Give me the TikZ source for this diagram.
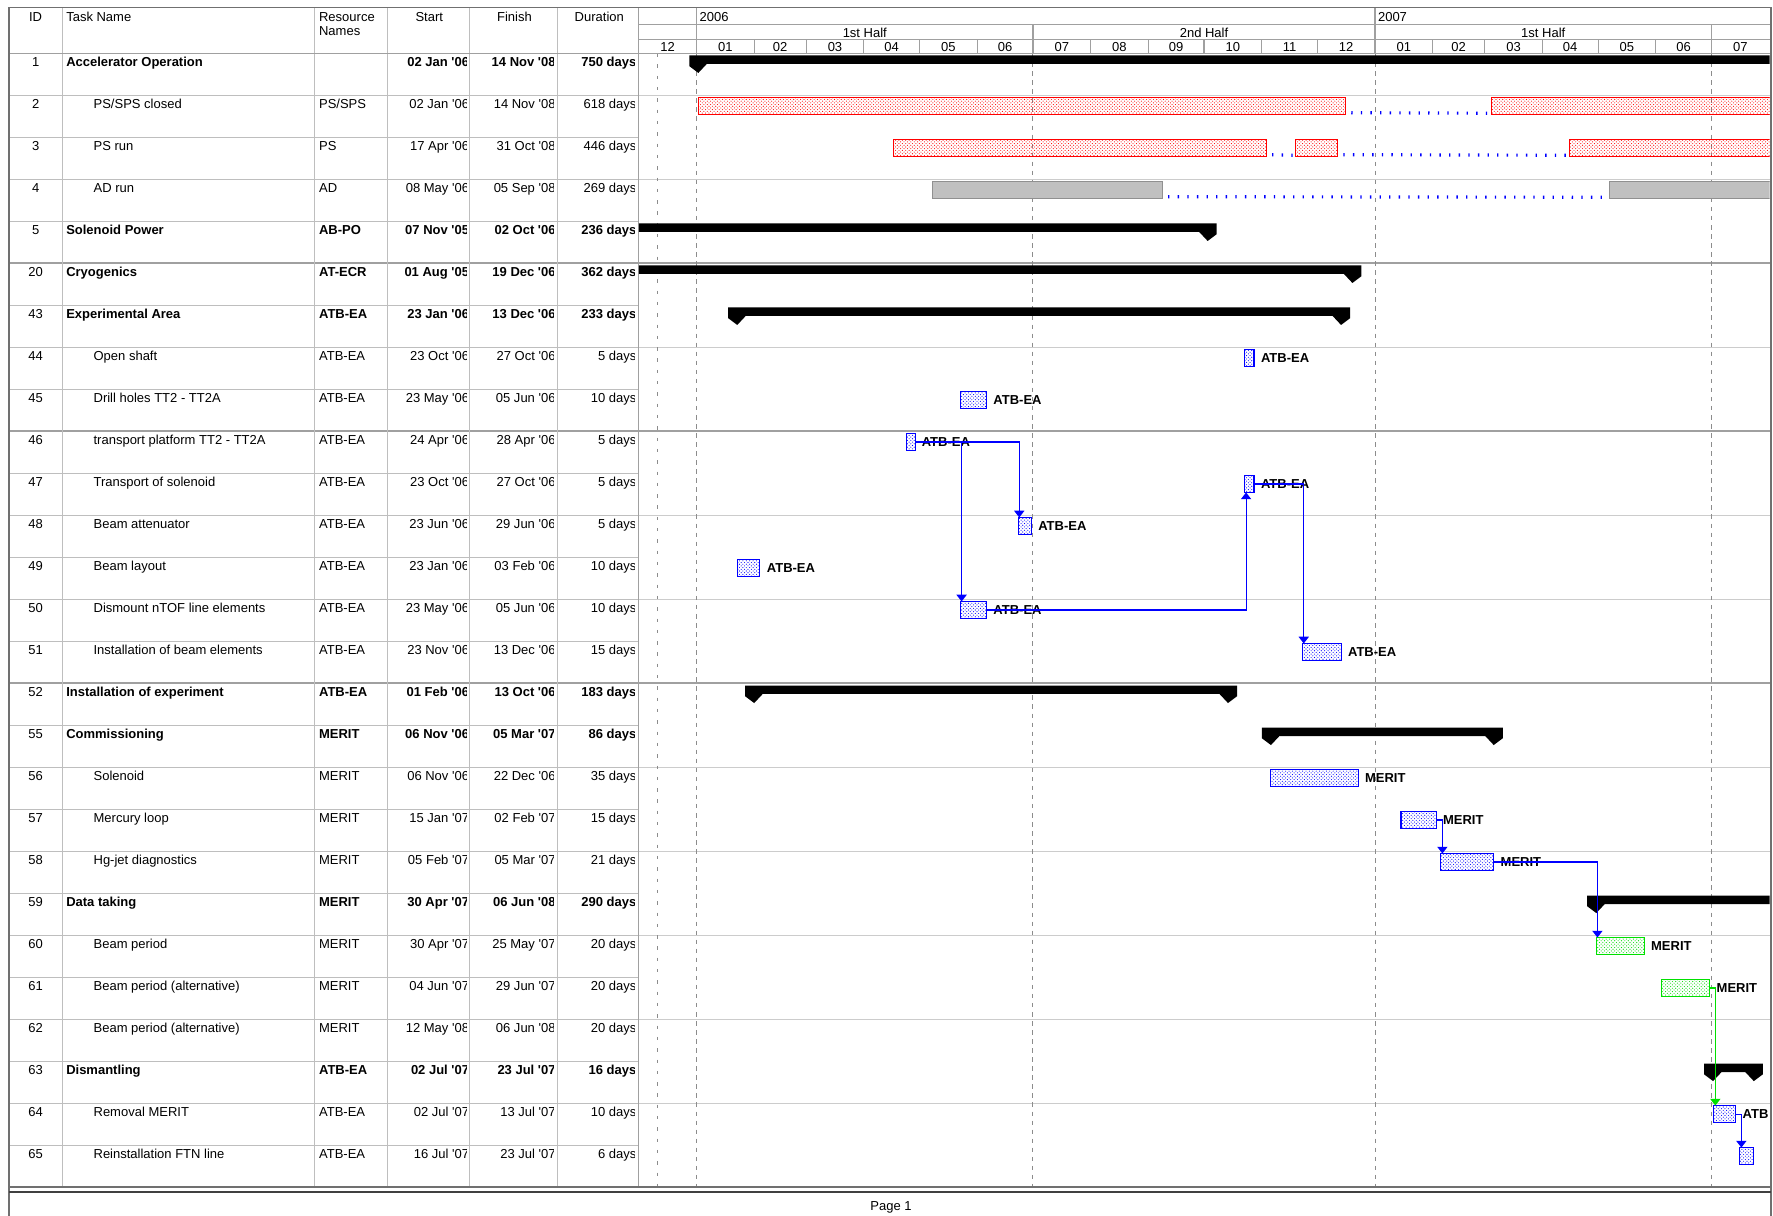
\documentclass[tikz,border=0pt]{standalone}
\usepackage{fontspec}
\newfontfamily\arial{Liberation Sans}
\usetikzlibrary{arrows.meta,patterns}
\definecolor{gridc}{HTML}{A0A0A0}
\definecolor{tgrid}{HTML}{BEBEBE}
\definecolor{cgrid}{HTML}{CCCCCC}
\definecolor{framec}{HTML}{707070}
\definecolor{barred}{HTML}{FF0000}
\definecolor{barblue}{HTML}{0000FF}
\definecolor{bargreen}{HTML}{00E000}
\definecolor{bargray}{HTML}{C0C0C0}
\definecolor{bargrayd}{HTML}{909090}
\definecolor{dashc}{HTML}{8C8C8C}
\tikzset{
 cell/.style={font=\arial\fontsize{11.5}{13}\selectfont, inner sep=0pt, anchor=base west},
 lbl/.style={font=\arial\bfseries\fontsize{11.5}{13}\selectfont, inner sep=0pt, anchor=west},
 tbar/.style={minimum height=15pt, minimum width=#1, inner sep=0pt, outer sep=0pt, anchor=north west, line width=0.9pt},
 redbar/.style={tbar=#1, draw=barred, pattern=crosshatch dots, pattern color=barred},
 bluebar/.style={tbar=#1, draw=barblue, pattern=crosshatch dots, pattern color=barblue},
 greenbar/.style={tbar=#1, draw=bargreen, pattern=crosshatch dots, pattern color=bargreen},
 graybar/.style={tbar=#1, draw=bargrayd, fill=bargray},
 link/.style={draw=barblue, line width=1pt, -{Triangle[width=9pt,length=6pt]}},
 glink/.style={link, draw=bargreen},
 splitline/.style={draw=barblue, line width=2.8pt, dash pattern=on 1.2pt off 7.3pt},
 tline/.style={draw=tgrid, line width=0.9pt},
 cline/.style={draw=cgrid, line width=0.9pt},
 hline/.style={draw=gridc, line width=1pt},
 pline/.style={draw=gridc, line width=1.7pt},
 frame/.style={draw=framec, line width=1.4pt},
 vdash/.style={draw=dashc, line width=0.8pt, dash pattern=on 4pt off 4pt},
 vdashb/.style={draw=dashc, line width=0.8pt, dash pattern=on 3pt off 7pt},
}
\newcommand\sumbar[3]{%
 \fill[black] (#2-8,#1+2) -- (#3+8,#1+2) -- (#3+8,#1+11.5) -- (#3,#1+17.5) -- (#3-7.5,#1+9.5)
   -- (#2+7.5,#1+9.5) -- (#2,#1+17.5) -- (#2-8,#1+11.5) -- cycle;}
\begin{document}
\begin{tikzpicture}[x=1pt,y=-1pt]
\useasboundingbox (0,0) rectangle (1568,1075);
\fill[white] (0,0) rectangle (1568,1075);

% grid lines
\foreach \k in {1,...,26} \draw[tline] (8,47+37.15*\k) -- (565,47+37.15*\k);
\foreach \k in {1,3,...,25} \draw[cline] (565,47+37.15*\k) -- (1565,47+37.15*\k);
\foreach \k in {5,9,15} \draw[pline] (8,47+37.15*\k) -- (1565,47+37.15*\k);
\draw[vdashb] (581,47) -- (581,1050);
\foreach \xx in {616,913.5,1216,1513.6} \draw[vdash] (\xx,47) -- (\xx,1050);
\foreach \xx in {55,278,343,415,493} \draw[tline] (\xx,6.5) -- (\xx,1050);
\draw[hline] (565,6.5) -- (565,1050);
\draw[hline] (8,47) -- (1565,47);
\draw[hline] (565,21.5) -- (1565,21.5);
\draw[hline] (565,35) -- (1565,35);
\foreach \xx in {616,1216} \draw[hline] (\xx,6.5) -- (\xx,21.5);
\foreach \xx in {616,913.5,1216,1513.6} \draw[hline] (\xx,21.5) -- (\xx,35);

% table header
\node[cell,anchor=base] (hid) at (31.5,18.8) {ID};
\node[cell] (htask) at (58.4,18.8) {Task Name};
\node[cell] (hres1) at (282,18.8) {Resource};
\node[cell] (hres2) at (282,31.5) {Names};
\node[cell,anchor=base] (hstart) at (379.6,18.8) {Start};
\node[cell,anchor=base] (hfin) at (455,18.8) {Finish};
\node[cell,anchor=base] (hdur) at (530,18.8) {Duration};

% chart header
\node[cell] (y2006) at (618.5,19.4) {2006};
\node[cell] (y2007) at (1218.5,19.4) {2007};
\node[cell,anchor=base] (half1) at (764.8,33.6) {1st Half};
\node[cell,anchor=base] (half2) at (1064.8,33.6) {2nd Half};
\node[cell,anchor=base] (half3) at (1364.8,33.6) {1st Half};
\foreach \ma/\mb/\mlab in {0/31/12,31/62/01,62/90/02,90/121/03,121/151/04,151/182/05,182/212/06,212/243/07,243/274/08,274/304/09,304/335/10,335/365/11,365/396/12,396/427/01,427/455/02,455/486/03,486/516/04,516/547/05,547/577/06,577/608/07} {
 \draw[hline] (565+1.644*\ma,35) -- (565+1.644*\ma,47);
 \node[cell,anchor=base] (mo\ma) at (565+0.822*\ma+0.822*\mb,45.4) {\mlab};
}

% table rows
\foreach \rI/\rID/\rF/\rX/\rN/\rR/\rS/\rE/\rD in {
0/1/\bfseries/58.4/Accelerator Operation//02 Jan '06/14 Nov '08/750 days,
1/2/\mdseries/82.6/{PS/SPS closed}/{PS/SPS}/02 Jan '06/14 Nov '08/618 days,
2/3/\mdseries/82.6/PS run/PS/17 Apr '06/31 Oct '08/446 days,
3/4/\mdseries/82.6/AD run/AD/08 May '06/05 Sep '08/269 days,
4/5/\bfseries/58.4/Solenoid Power/AB-PO/07 Nov '05/02 Oct '06/236 days,
5/20/\bfseries/58.4/Cryogenics/AT-ECR/01 Aug '05/19 Dec '06/362 days,
6/43/\bfseries/58.4/Experimental Area/ATB-EA/23 Jan '06/13 Dec '06/233 days,
7/44/\mdseries/82.6/Open shaft/ATB-EA/23 Oct '06/27 Oct '06/5 days,
8/45/\mdseries/82.6/Drill holes TT2 - TT2A/ATB-EA/23 May '06/05 Jun '06/10 days,
9/46/\mdseries/82.6/transport platform TT2 - TT2A/ATB-EA/24 Apr '06/28 Apr '06/5 days,
10/47/\mdseries/82.6/Transport of solenoid/ATB-EA/23 Oct '06/27 Oct '06/5 days,
11/48/\mdseries/82.6/Beam attenuator/ATB-EA/23 Jun '06/29 Jun '06/5 days,
12/49/\mdseries/82.6/Beam layout/ATB-EA/23 Jan '06/03 Feb '06/10 days,
13/50/\mdseries/82.6/Dismount nTOF line elements/ATB-EA/23 May '06/05 Jun '06/10 days,
14/51/\mdseries/82.6/Installation of beam elements/ATB-EA/23 Nov '06/13 Dec '06/15 days,
15/52/\bfseries/58.4/Installation of experiment/ATB-EA/01 Feb '06/13 Oct '06/183 days,
16/55/\bfseries/58.4/Commissioning/MERIT/06 Nov '06/05 Mar '07/86 days,
17/56/\mdseries/82.6/Solenoid/MERIT/06 Nov '06/22 Dec '06/35 days,
18/57/\mdseries/82.6/Mercury loop/MERIT/15 Jan '07/02 Feb '07/15 days,
19/58/\mdseries/82.6/Hg-jet diagnostics/MERIT/05 Feb '07/05 Mar '07/21 days,
20/59/\bfseries/58.4/Data taking/MERIT/30 Apr '07/06 Jun '08/290 days,
21/60/\mdseries/82.6/Beam period/MERIT/30 Apr '07/25 May '07/20 days,
22/61/\mdseries/82.6/Beam period (alternative)/MERIT/04 Jun '07/29 Jun '07/20 days,
23/62/\mdseries/82.6/Beam period (alternative)/MERIT/12 May '08/06 Jun '08/20 days,
24/63/\bfseries/58.4/Dismantling/ATB-EA/02 Jul '07/23 Jul '07/16 days,
25/64/\mdseries/82.6/Removal MERIT/ATB-EA/02 Jul '07/13 Jul '07/10 days,
26/65/\mdseries/82.6/Reinstallation FTN line/ATB-EA/16 Jul '07/23 Jul '07/6 days} {
 \pgfmathsetmacro\yy{47+37.15*\rI+11.4}
 \node[cell,anchor=base] (id\rID) at (31.5,\yy) {\rID};
 \node[cell] (nm\rID) at (\rX,\yy) {\rF\rN};
 \node[cell] (rs\rID) at (282,\yy) {\rF\rR};
 \begin{scope}
  \clip (343,\yy-14) rectangle (412.5,\yy+6);
  \node[cell,anchor=base east] (sd\rID) at (415,\yy) {\rF\rS};
 \end{scope}
 \begin{scope}
  \clip (415,\yy-14) rectangle (489.5,\yy+6);
  \node[cell,anchor=base east] (fd\rID) at (491.5,\yy) {\rF\rE};
 \end{scope}
 \begin{scope}
  \clip (493,\yy-14) rectangle (561.5,\yy+6);
  \node[cell,anchor=base east] (du\rID) at (563,\yy) {\rF\rD};
 \end{scope}
}

% chart content
\begin{scope}
\clip (565,47) rectangle (1565,1050);
% summary bars
\sumbar{47}{617.6}{1620}
\sumbar{195.6}{525.5}{1068}
\sumbar{232.75}{400}{1196}
\sumbar{269.9}{652}{1186}
\sumbar{604.25}{667}{1086}
\sumbar{641.4}{1124}{1321}
\sumbar{790}{1411.7}{1700}
\sumbar{938.6}{1515}{1551}
% split task rows
\node[redbar=572.4pt] (b2a) at (617.6,86.15) {};
\node[redbar=247pt] (b2b) at (1319,86.15) {};
\node[redbar=330pt] (b3a) at (790,123.3) {};
\node[redbar=37pt] (b3b) at (1146,123.3) {};
\node[redbar=178pt] (b3c) at (1388,123.3) {};
\node[graybar=203pt] (b4a) at (825,160.45) {};
\node[graybar=143pt] (b4b) at (1423,160.45) {};
\draw[splitline] (b2a.south east) ++(5,-1.5) coordinate (s2a) -- (1316,100.15) coordinate (s2b);
\draw[splitline] (b3a.south east) ++(5,-1.5) coordinate (s3a) -- (1144,137.3) coordinate (s3b);
\draw[splitline] (b3b.south east) ++(5,-1.5) coordinate (s3c) -- (1386,137.3) coordinate (s3d);
\draw[splitline] (b4a.south east) ++(5,-1.5) coordinate (s4a) -- (1421,174.45) coordinate (s4b);
% tasks
\node[bluebar=8pt] (b44) at (1101,309.05) {};
\node[bluebar=23pt] (b45) at (849.4,346.2) {};
\node[bluebar=8.3pt] (b46) at (801.7,383.35) {};
\node[bluebar=8pt] (b47) at (1101,420.5) {};
\node[bluebar=11.6pt] (b48) at (900.4,457.65) {};
\node[bluebar=20pt] (b49) at (652,494.8) {};
\node[bluebar=23pt] (b50) at (849.4,531.95) {};
\node[bluebar=34pt] (b51) at (1152,569.1) {};
\node[bluebar=77pt] (b56) at (1124,680.55) {};
\node[bluebar=31pt] (b57) at (1239,717.7) {};
\node[bluebar=47.4pt] (b58) at (1273.6,754.85) {};
\node[greenbar=42.3pt] (b60) at (1411.7,829.15) {};
\node[greenbar=43pt] (b61) at (1469,866.3) {};
\node[bluebar=20pt] (b64) at (1515,977.75) {};
\node[bluebar=13pt] (b65) at (1538,1014.9) {};
% labels
\node[lbl] (l44) at ([xshift=6pt]b44.east) {ATB-EA};
\node[lbl] (l45) at ([xshift=6pt]b45.east) {ATB-EA};
\node[lbl] (l46) at ([xshift=5pt]b46.east) {ATB-EA};
\node[lbl] (l47) at ([xshift=6pt]b47.east) {ATB-EA};
\node[lbl] (l48) at ([xshift=6pt]b48.east) {ATB-EA};
\node[lbl] (l49) at ([xshift=6pt]b49.east) {ATB-EA};
\node[lbl] (l50) at ([xshift=6pt]b50.east) {ATB-EA};
\node[lbl] (l51) at ([xshift=6pt]b51.east) {ATB-EA};
\node[lbl] (l56) at ([xshift=6pt]b56.east) {MERIT};
\node[lbl] (l57) at ([xshift=6pt]b57.east) {MERIT};
\node[lbl] (l58) at ([xshift=6pt]b58.east) {MERIT};
\node[lbl] (l60) at ([xshift=6pt]b60.east) {MERIT};
\node[lbl] (l61) at ([xshift=6pt]b61.east) {MERIT};
\node[lbl] (l64) at ([xshift=6pt]b64.east) {ATB};
% links
\draw[link] (b46.east) -| ([xshift=1pt]b48.north west);
\draw[link] (b46.east) -| ([xshift=1pt]b50.north west);
\draw[link] (b50.east) -| ([xshift=1pt]b47.south west);
\draw[link] (b47.east) -| ([xshift=1pt]b51.north west);
\draw[link] (b57.east) -| ([xshift=2pt]b58.north west);
\draw[link] (b58.east) -| ([xshift=1pt]b60.north west);
\draw[glink] (b61.east) -| ([xshift=2pt]b64.north west);
\draw[link] (b64.east) -| ([xshift=2pt]b65.north west);
\end{scope}

% frame and footer
\draw[frame] (8,6.5) rectangle (1566,1050);
\draw[frame] (8,1050) -- (8,1075) (1566,1050) -- (1566,1075);
\draw[line width=1.6pt, draw=black!75] (8,1054) -- (1566,1054);
\node[cell,anchor=base] (page) at (788,1070.5) {Page 1};
\end{tikzpicture}
\end{document}
